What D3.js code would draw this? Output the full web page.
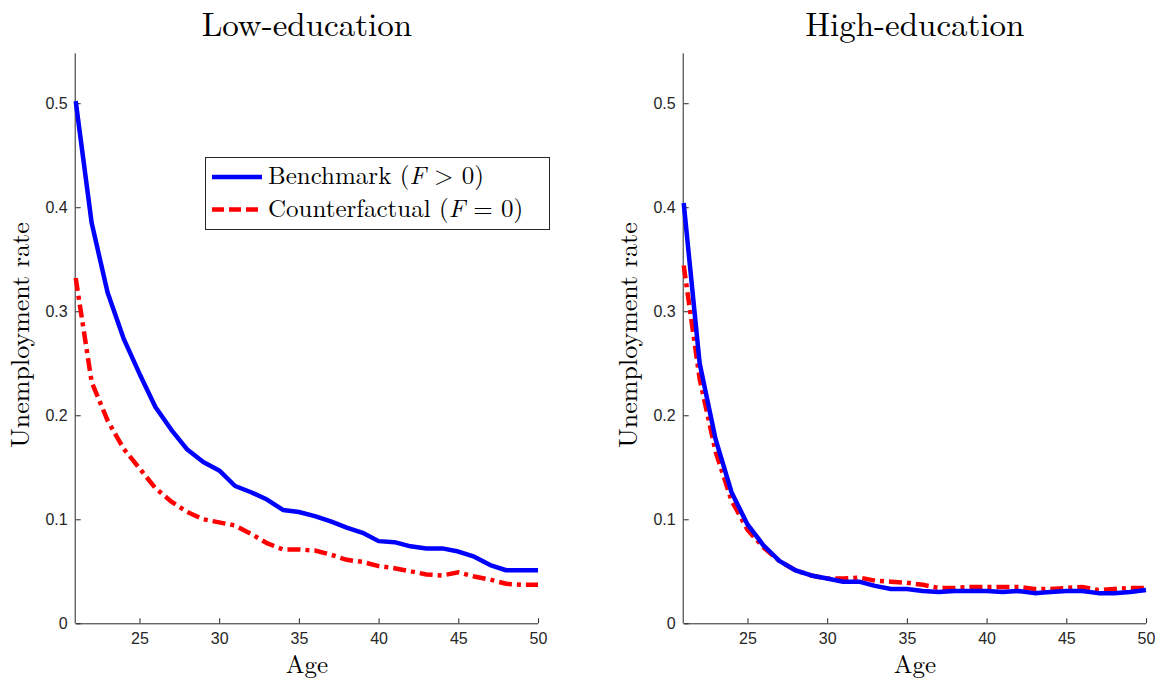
<!DOCTYPE html>
<html>
<head>
<meta charset="utf-8">
<script src="https://cdn.jsdelivr.net/npm/d3@7"></script>
<style>
  body { margin: 0; background: #fff; }
  .axis text { font-family: "Liberation Sans", Arial, sans-serif; font-size: 16px; fill: #262626; }
  .axis path, .axis line { stroke: #262626; }
  .serif { font-family: "Latin Modern Roman", "CMU Serif", "Liberation Serif", serif; fill: #000; }
</style>
</head>
<body>
<div id="chart"></div>
<script>
// data: unemployment rate by age
const ages = d3.range(21, 51);
const lowBenchmark = [0.502, 0.385, 0.318, 0.274, 0.240, 0.208, 0.186, 0.167, 0.155, 0.147,
  0.132, 0.126, 0.119, 0.109, 0.107, 0.103, 0.098, 0.092, 0.087, 0.079,
  0.078, 0.074, 0.072, 0.072, 0.069, 0.064, 0.056, 0.051, 0.051, 0.051];
const lowCounter = [0.332, 0.232, 0.195, 0.168, 0.149, 0.130, 0.117, 0.107, 0.100, 0.097,
  0.094, 0.086, 0.077, 0.071, 0.071, 0.070, 0.066, 0.061, 0.059, 0.055,
  0.053, 0.050, 0.047, 0.046, 0.049, 0.045, 0.042, 0.038, 0.037, 0.037];
const highBenchmark = [0.404, 0.250, 0.177, 0.126, 0.095, 0.075, 0.060, 0.051, 0.046, 0.043,
  0.040, 0.040, 0.036, 0.033, 0.033, 0.031, 0.030, 0.031, 0.031, 0.031,
  0.030, 0.031, 0.029, 0.030, 0.031, 0.031, 0.029, 0.029, 0.030, 0.032];
const highCounter = [0.344, 0.235, 0.165, 0.118, 0.090, 0.073, 0.060, 0.051, 0.046, 0.043,
  0.043, 0.044, 0.041, 0.040, 0.039, 0.037, 0.034, 0.034, 0.035, 0.035,
  0.035, 0.035, 0.033, 0.033, 0.034, 0.035, 0.032, 0.033, 0.034, 0.034];
const xTicks = [25, 30, 35, 40, 45, 50];
const yTicks = [0, 0.1, 0.2, 0.3, 0.4, 0.5];
const panelTitles = ["Low-education", "High-education"];

const width = 1155, height = 680;
const svg = d3.select("#chart").append("svg")
  .attr("width", width).attr("height", height);

// plot areas (left edge, right edge) for each panel
const panels = [
  {left: 75.7, right: 538, title: panelTitles[0], blue: lowBenchmark, red: lowCounter, legend: true},
  {left: 683.7, right: 1146, title: panelTitles[1], blue: highBenchmark, red: highCounter, legend: false}
];
const plotTop = 53.3, plotBottom = 623.3;
const dashDot = "13,5,4,5";

panels.forEach(function(p) {
  const x = d3.scaleLinear().domain([21, 50]).range([p.left, p.right]);
  const y = d3.scaleLinear().domain([0, 0.548]).range([plotBottom, plotTop]);

  const g = svg.append("g");

  // axes, ticks point inward like matlab
  g.append("g").attr("class", "axis")
    .attr("transform", "translate(0," + plotBottom + ")")
    .call(d3.axisBottom(x).tickValues(xTicks).tickSizeInner(-5).tickSizeOuter(0).tickPadding(9))
    .call(a => a.select(".domain").attr("d", "M" + p.left + ",0.5H" + p.right));
  g.append("g").attr("class", "axis")
    .attr("transform", "translate(" + p.left + ",0)")
    .call(d3.axisLeft(y).tickValues(yTicks).tickSizeInner(-5).tickSizeOuter(0).tickPadding(8)
      .tickFormat(d => d === 0 ? "0" : d3.format(".1f")(d)))
    .call(a => a.select(".domain").attr("d", "M-0.5," + plotTop + "V" + plotBottom));

  const line = d3.line().x((d, i) => x(ages[i])).y(d => y(d));

  g.append("path").datum(p.red)
    .attr("d", line)
    .attr("fill", "none").attr("stroke", "#ff0000").attr("stroke-width", 4.5)
    .attr("stroke-dasharray", dashDot);
  g.append("path").datum(p.blue)
    .attr("d", line)
    .attr("fill", "none").attr("stroke", "#0000ff").attr("stroke-width", 4.5)
    .attr("stroke-linejoin", "round");

  const cx = (p.left + p.right) / 2;
  g.append("text").attr("class", "serif")
    .attr("x", cx).attr("y", 36)
    .attr("text-anchor", "middle").style("font-size", "33px")
    .text(p.title);
  g.append("text").attr("class", "serif")
    .attr("x", cx).attr("y", 673)
    .attr("text-anchor", "middle").style("font-size", "25px")
    .text("Age");
  g.append("text").attr("class", "serif")
    .attr("transform", "translate(" + (p.left - 47) + "," + 335 + ") rotate(-90)")
    .attr("text-anchor", "middle").style("font-size", "26px")
    .text("Unemployment rate");

  if (p.legend) {
    const lg = g.append("g");
    lg.append("rect").attr("x", 205.5).attr("y", 157.5).attr("width", 344).attr("height", 72)
      .attr("fill", "#fff").attr("stroke", "#262626").attr("stroke-width", 1);
    const items = [
      {color: "#0000ff", dash: null, name: "Benchmark (", rel: " > 0)"},
      {color: "#ff0000", dash: "12,5", name: "Counterfactual (", rel: " = 0)"}
    ];
    items.forEach(function(it, i) {
      const yy = 177 + i * 32.5;
      lg.append("line").attr("x1", 212).attr("x2", 262).attr("y1", yy).attr("y2", yy)
        .attr("stroke", it.color).attr("stroke-width", 4.5)
        .attr("stroke-dasharray", it.dash);
      const t = lg.append("text").attr("class", "serif")
        .attr("x", 268).attr("y", yy + 7).style("font-size", "25px");
      t.append("tspan").text(it.name);
      t.append("tspan").style("font-style", "italic").text("F");
      t.append("tspan").text(it.rel);
    });
  }
});
</script>
</body>
</html>
